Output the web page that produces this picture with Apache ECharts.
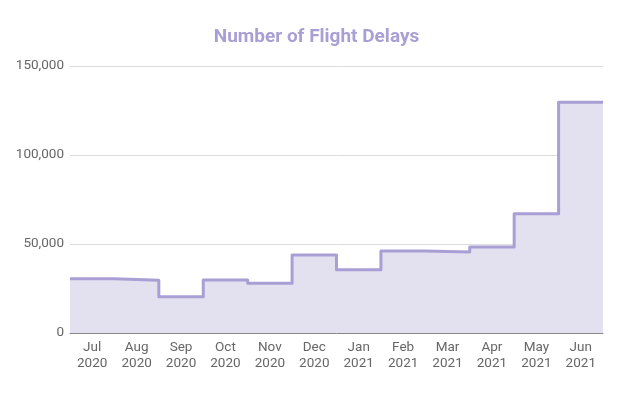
<!DOCTYPE html>
<html>
<head>
<meta charset="utf-8">
<script src="https://cdn.jsdelivr.net/npm/echarts@6/dist/echarts.min.js"></script>
<style>
html, body { margin: 0; padding: 0; background: #fff; }
#chart { width: 633px; height: 397px; }
</style>
</head>
<body>
<div id="chart"></div>
<script>
var months = ['Jul\n2020', 'Aug\n2020', 'Sep\n2020', 'Oct\n2020', 'Nov\n2020', 'Dec\n2020',
              'Jan\n2021', 'Feb\n2021', 'Mar\n2021', 'Apr\n2021', 'May\n2021', 'Jun\n2021'];
var delays = [30500, 29600, 20400, 29800, 27900, 43800, 35600, 46100, 45500, 48300, 67000, 129600];

// each month fills its whole band: points at band starts, plus one closing point
var stepData = [];
for (var i = 0; i < delays.length; i++) {
    stepData.push([i, delays[i]]);
}
stepData.push([delays.length, delays[delays.length - 1]]);

var chart = echarts.init(document.getElementById('chart'));
chart.setOption({
    animation: false,
    textStyle: { fontFamily: 'Roboto' },
    title: {
        text: 'Number of Flight Delays',
        left: 'center',
        top: 23,
        textStyle: { color: '#a99fd4', fontSize: 19, fontWeight: 'bold', fontFamily: 'Roboto' }
    },
    grid: { left: 70, right: 30, top: 66, bottom: 64 },
    xAxis: [{
        type: 'value',
        min: 0,
        max: months.length,
        show: false
    }, {
        type: 'category',
        data: months,
        boundaryGap: true,
        position: 'bottom',
        axisLine: { lineStyle: { color: '#888', width: 1 } },
        axisTick: { show: false },
        axisLabel: { color: '#666', fontSize: 13.5, lineHeight: 15.5, margin: 7 }
    }],
    yAxis: {
        type: 'value',
        min: 0,
        max: 150000,
        interval: 50000,
        axisLine: { show: false },
        axisTick: { show: false },
        axisLabel: {
            color: '#666',
            fontSize: 13.5,
            margin: 6,
            formatter: function (v) { return v.toLocaleString('en-US'); }
        },
        splitLine: { lineStyle: { color: '#dcdcdc' } }
    },
    series: [{
        type: 'line',
        xAxisIndex: 0,
        data: stepData,
        step: 'end',
        symbol: 'none',
        lineStyle: { color: '#a99fd4', width: 3, join: 'round' },
        areaStyle: { color: '#e3e0f0', opacity: 1 },
        z: 3
    }]
});
</script>
</body>
</html>
